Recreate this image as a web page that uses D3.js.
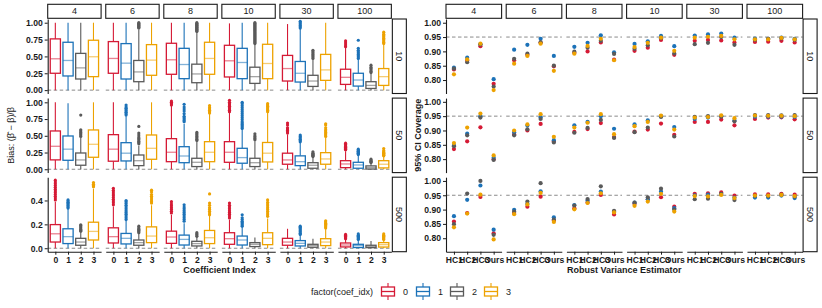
<!DOCTYPE html>
<html>
<head>
<meta charset="utf-8">
<script src="https://cdn.jsdelivr.net/npm/d3@7/dist/d3.min.js"></script>
<style>
  body { margin: 0; background: #fff; }
  text { font-family: "Liberation Sans", Arial, Helvetica, sans-serif; }
</style>
</head>
<body>
<script>
// facets
const colLabels = ["4", "6", "8", "10", "30", "100"];
const rowLabels = ["10", "50", "500"];
const coefs = ["0", "1", "2", "3"];
const estimators = ["HC1", "HC2", "HC3", "Ours"];
const coefColors = ["#D51A35", "#1C72B8", "#5A5A5A", "#EDA200"];

// bias boxplots: per column, per coef -> [lower whisker, q1, median, q3, upper whisker]
const biasBox10 = [
  [[0,.25,.465,.76,1],[0,.21,.44,.71,1],[0,.165,.33,.545,1],[0,.2,.495,.74,1]],
  [[0,.25,.47,.72,1],[0,.165,.40,.69,1],[0,.125,.27,.44,.90],[0,.22,.445,.675,1]],
  [[0,.235,.45,.695,1],[0,.17,.38,.62,1],[0,.11,.24,.385,.86],[0,.235,.47,.71,1]],
  [[0,.195,.435,.665,.99],[0,.17,.41,.62,1],[0,.10,.20,.34,.68],[0,.17,.395,.68,1]],
  [[0,.135,.32,.515,.98],[0,.12,.25,.425,.91],[0,.055,.135,.22,.46],[0,.145,.30,.53,1]],
  [[0,.085,.19,.31,.63],[0,.06,.15,.25,.46],[0,.025,.07,.125,.25],[0,.07,.20,.32,.68]]
];
const biasBox50 = [
  [[0,.14,.343,.572,1],[0,.134,.30,.497,.985],[0,.06,.139,.243,.47],[0,.179,.373,.587,1]],
  [[0,.12,.30,.517,1],[0,.124,.24,.397,.79],[0,.054,.128,.213,.35],[0,.149,.313,.512,1]],
  [[0,.113,.254,.457,.95],[0,.098,.198,.337,.68],[0,.04,.104,.164,.42],[0,.113,.254,.412,.83]],
  [[0,.104,.254,.412,.85],[0,.09,.174,.313,.60],[0,.04,.098,.164,.42],[0,.109,.24,.40,.85]],
  [[0,.075,.139,.24,.52],[0,.054,.113,.20,.40],[0,.015,.06,.098,.18],[0,.075,.154,.248,.47]],
  [[0,.024,.079,.128,.27],[0,.015,.064,.104,.21],[0,.003,.024,.05,.09],[0,.02,.075,.128,.19]]
];
const biasBox500 = [
  [[0,.052,.121,.198,.39],[0,.039,.097,.163,.33],[0,.025,.052,.083,.135],[0,.069,.141,.218,.50]],
  [[0,.044,.097,.171,.35],[0,.036,.083,.124,.23],[0,.025,.047,.069,.125],[0,.047,.102,.179,.36]],
  [[0,.041,.094,.143,.28],[0,.027,.074,.11,.21],[0,.019,.039,.058,.095],[0,.039,.088,.149,.27]],
  [[0,.033,.08,.13,.24],[0,.027,.069,.102,.18],[0,.014,.033,.047,.09],[0,.03,.083,.13,.25]],
  [[0,.025,.052,.083,.163],[0,.019,.041,.064,.11],[0,.008,.022,.033,.08],[0,.022,.052,.08,.165]],
  [[0,.011,.027,.044,.075],[0,.006,.022,.033,.07],[0,.005,.015,.025,.06],[0,.01,.03,.047,.07]]
];

// bias outliers: per column, per coef
const biasOut10 = [
  [[],[],[],[]],
  [[],[],[.92,.93,.94,.95,.96,.97,.98,.99,1.0],[]],
  [[],[],[.87,.88,.89,.9,.91,.92,.93,.94,.95,.96,.97,.98,.99,1.0],[]],
  [[],[],[.69,.705,.72,.735,.75,.765,.78,.795,.81,.825,.84,.855,.87,.885,.9,.915,.93,.945,.96,.975,.99,1.0],[]],
  [[],[.92,.94,.96,.98,1.0,1.02],[.47,.49,.51,.53,.55,.57,.59],[]],
  [[.645,.67,.7,.73],[.47,.49,.51,.53,.55,.57,.59,.62,.74],[.26,.28,.3,.32,.34,.37],[.69,.71,.73,.75,.77,.79,.81,.83,.86]]
];
const biasOut50 = [
  [[],[],[.49,.51,.53,.55,.57,.59,.81],[]],
  [[],[.81,.83,.85,.87,.89,.91,.93,.96],[.38,.40,.42,.44,.46,.48,.51,.54,.64],[]],
  [[.96,.98,1.0,1.02],[.71,.73,.75,.77,.79,.83,.87,.9,.93,.97],[.43,.45,.47,.49,.51,.53,.55],[.84,.86,.88,.9,.92,.95]],
  [[.86,.88,.9,.92,.94,.96,.98,1.0,1.03],[.61,.63,.65,.67,.69,.71,.74,.77,.8,.83,.86,.89,.92,.95,.98,1.0],[.44,.46,.48,.5,.53],[.86,.88,.9,.92,.94,.96,.98]],
  [[.54,.56,.58,.6,.62,.66,.69],[.41,.43,.45,.47,.49,.51],[.19,.2,.21,.22,.23,.24,.26],[.49,.51,.53,.55,.57,.59,.62,.66,.68]],
  [[.29,.3,.31,.32,.33,.34,.35,.37,.39],[.22,.23,.24,.25,.26,.27,.28,.3],[.1,.11,.12,.13,.15],[.2,.21,.22,.23,.24,.25,.26,.28,.31]]
];
const biasOut500 = [
  [[.405,.42,.435,.45,.465,.48,.495,.51,.525,.54,.555,.57],[.336,.345,.355,.365,.375,.385,.395,.405],[.143,.15,.16,.17,.18,.19,.196],[.515,.525,.535,.55]],
  [[.364,.38,.395,.41,.425,.44,.455,.47,.485,.502],[.24,.255,.27,.285,.3,.315,.33,.345,.36,.375,.39,.4],[.13,.14,.15,.16,.17,.185],[.378,.39,.405,.42,.435,.45,.47,.486]],
  [[.295,.31,.325,.34,.355,.37,.39],[.226,.24,.255,.27,.285,.3,.315,.33,.345,.364],[.1,.11,.12,.13],[.28,.295,.31,.325,.34,.36,.378,.455]],
  [[.254,.27,.285,.3,.315,.33,.345,.36,.378],[.185,.195,.205,.215,.225,.24,.255,.28],[],[.267,.28,.295,.31,.325,.34,.355,.37,.385,.405]],
  [[],[.116,.125,.135,.145,.155,.165,.175,.185],[],[.17,.18,.19,.2,.21,.22,.23]],
  [[.08,.087,.094,.101,.108,.116],[.074,.08,.087,.094,.101,.108,.12],[],[.074,.08,.087,.094,.101,.108,.12]]
];

// coverage: per column, per estimator -> [coef0, coef1, coef2, coef3]
const cov10 = [
  [[.837,.843,.840,.82],[.868,.878,.862,.872],[.918,.925,.924,.927],[.787,.803,.777,.765]],
  [[.869,.906,.874,.857],[.888,.923,.892,.884],[.93,.944,.932,.927],[.848,.884,.85,.832]],
  [[.895,.916,.899,.892],[.9,.93,.913,.919],[.931,.956,.937,.944],[.871,.897,.891,.869]],
  [[.902,.926,.909,.915],[.913,.935,.921,.93],[.94,.954,.946,.948],[.888,.918,.893,.902]],
  [[.937,.955,.925,.948],[.94,.959,.93,.951],[.938,.962,.95,.954],[.931,.948,.923,.942]],
  [[.933,.945,.94,.942],[.934,.944,.944,.942],[.937,.948,.945,.947],[.931,.944,.94,.942]]
];
const cov50 = [
  [[.835,.848,.845,.856],[.862,.889,.883,.91],[.911,.95,.945,.959],[.80,.805,.797,.813]],
  [[.887,.894,.883,.9],[.9,.917,.904,.921],[.923,.946,.94,.957],[.862,.866,.858,.878]],
  [[.895,.918,.892,.91],[.905,.93,.909,.927],[.926,.95,.937,.957],[.877,.906,.874,.887]],
  [[.896,.921,.894,.915],[.903,.935,.91,.93],[.924,.95,.947,.952],[.885,.912,.879,.903]],
  [[.93,.94,.948,.945],[.93,.945,.95,.947],[.938,.95,.948,.953],[.918,.935,.932,.943]],
  [[.94,.948,.954,.952],[.945,.948,.954,.951],[.946,.948,.953,.951],[.939,.947,.954,.95]]
];
const cov500 = [
  [[.858,.877,.849,.838],[.888,.934,.956,.886],[.944,.984,1.0,.952],[.817,.83,.812,.796]],
  [[.888,.899,.893,.884],[.91,.92,.928,.918],[.945,.964,.992,.958],[.862,.873,.865,.857]],
  [[.905,.916,.914,.901],[.925,.932,.937,.923],[.951,.963,.981,.957],[.883,.893,.896,.89]],
  [[.92,.924,.924,.913],[.935,.936,.943,.928],[.943,.963,.973,.955],[.91,.905,.9,.893]],
  [[.955,.95,.936,.947],[.957,.952,.938,.946],[.96,.954,.955,.951],[.949,.942,.933,.94]],
  [[.953,.942,.948,.949],[.953,.942,.947,.949],[.955,.949,.952,.951],[.952,.94,.945,.947]]
];

const biasBox = [biasBox10, biasBox50, biasBox500];
const biasOut = [biasOut10, biasOut50, biasOut500];
const coverage = [cov10, cov50, cov500];
const biasTicks = [[0, .25, .5, .75, 1], [0, .25, .5, .75, 1], [0, .2, .4]];
const biasDomains = [[-0.05, 1.055], [-0.05, 1.063], [-0.029, 0.595]];
const covTicks = [.80, .85, .90, .95, 1.00];
const covDomain = [0.753, 1.013];

// layout
const rowTop = [19, 98.1, 177.2], rowH = 74.5;
const L = {x0: 47.7, w: 53.4, gap: 4.65};
const R = {x0: 446, w: 55.6, gap: 4.6};
const stripTop = 4.3, stripH = 14;

const svg = d3.select("body").append("svg")
  .attr("width", 822).attr("height", 308);

const strip = (x, y, w, h, label, rotate) => {
  svg.append("rect").attr("x", x).attr("y", y).attr("width", w).attr("height", h)
    .attr("fill", "#fff").attr("stroke", "#1a1a1a").attr("stroke-width", 1.1);
  const t = svg.append("text").attr("font-size", 9).attr("fill", "#1a1a1a")
    .attr("text-anchor", "middle").attr("dominant-baseline", "central").text(label);
  if (rotate) t.attr("transform", `translate(${x + w / 2},${y + h / 2}) rotate(90)`);
  else t.attr("x", x + w / 2).attr("y", y + h / 2);
};

const styleAxis = g => {
  g.selectAll("text").attr("font-size", 8.6).attr("font-weight", "bold").attr("fill", "#1a1a1a")
    .attr("font-family", "Liberation Sans, Arial, sans-serif");
  g.selectAll("line").attr("stroke", "#1a1a1a");
  g.select(".domain").attr("stroke", "#1a1a1a").attr("stroke-width", 1.1);
};

// ---------- left: bias boxplots ----------
rowLabels.forEach((rl, r) => {
  const y = d3.scaleLinear().domain(biasDomains[r]).range([rowTop[r] + rowH, rowTop[r]]);
  colLabels.forEach((cl, c) => {
    const px = L.x0 + c * (L.w + L.gap);
    const x = d3.scalePoint().domain(coefs).range([px, px + L.w]).padding(0.6);
    const bw = x.step() * 0.8;
    const g = svg.append("g");

    g.append("line").attr("x1", px).attr("x2", px + L.w)
      .attr("y1", y(0)).attr("y2", y(0))
      .attr("stroke", "#8a8a8a").attr("stroke-width", 1).attr("stroke-dasharray", "3.5,2.5");

    coefs.forEach((k, i) => {
      const [lo, q1, med, q3, hi] = biasBox[r][c][i];
      const cx = x(k), col = coefColors[i];
      g.append("line").attr("x1", cx).attr("x2", cx).attr("y1", y(hi)).attr("y2", y(q3))
        .attr("stroke", col).attr("stroke-width", 1.1);
      g.append("line").attr("x1", cx).attr("x2", cx).attr("y1", y(q1)).attr("y2", y(lo))
        .attr("stroke", col).attr("stroke-width", 1.1);
      g.append("rect").attr("x", cx - bw / 2).attr("width", bw)
        .attr("y", y(q3)).attr("height", y(q1) - y(q3))
        .attr("fill", "#fff").attr("stroke", col).attr("stroke-width", 1.3);
      g.append("line").attr("x1", cx - bw / 2).attr("x2", cx + bw / 2)
        .attr("y1", y(med)).attr("y2", y(med))
        .attr("stroke", col).attr("stroke-opacity", 0.55).attr("stroke-width", 1.3);
      g.selectAll(null).data(biasOut[r][c][i]).join("circle")
        .attr("cx", cx).attr("cy", d => y(d)).attr("r", 1.6).attr("fill", col);
    });

    if (r === 0) strip(px, stripTop, L.w, stripH, cl, false);
    if (c === 0) {
      svg.append("g").attr("transform", `translate(${px},0)`)
        .call(d3.axisLeft(y).tickValues(biasTicks[r])
          .tickFormat(r === 2 ? d3.format(".1f") : d3.format(".2f"))
          .tickSize(3).tickSizeOuter(0).tickPadding(2))
        .call(styleAxis);
    }
    if (r === 2) {
      svg.append("g").attr("transform", `translate(0,${rowTop[r] + rowH})`)
        .call(d3.axisBottom(x).tickSize(3).tickSizeOuter(0).tickPadding(2))
        .call(styleAxis);
    }
  });
  strip(L.x0 + 6 * L.w + 5 * L.gap + 1, rowTop[r], 14, rowH, rl, true);
});

// ---------- right: coverage points ----------
rowLabels.forEach((rl, r) => {
  const y = d3.scaleLinear().domain(covDomain).range([rowTop[r] + rowH, rowTop[r]]);
  colLabels.forEach((cl, c) => {
    const px = R.x0 + c * (R.w + R.gap);
    const x = d3.scalePoint().domain(estimators).range([px, px + R.w]).padding(0.6);
    const g = svg.append("g");

    g.append("line").attr("x1", px).attr("x2", px + R.w)
      .attr("y1", y(0.95)).attr("y2", y(0.95))
      .attr("stroke", "#8a8a8a").attr("stroke-width", 1).attr("stroke-dasharray", "3.5,2.5");

    coefs.forEach((k, i) => {
      g.selectAll(null).data(estimators).join("circle")
        .attr("cx", e => x(e))
        .attr("cy", (e, j) => y(coverage[r][c][j][i]))
        .attr("r", 2.1).attr("fill", coefColors[i]);
    });

    if (r === 0) strip(px, stripTop, R.w, stripH, cl, false);
    if (c === 0) {
      svg.append("g").attr("transform", `translate(${px},0)`)
        .call(d3.axisLeft(y).tickValues(covTicks).tickFormat(d3.format(".2f"))
          .tickSize(3).tickSizeOuter(0).tickPadding(2))
        .call(styleAxis);
    }
    if (r === 2) {
      svg.append("g").attr("transform", `translate(0,${rowTop[r] + rowH})`)
        .call(d3.axisBottom(x).tickSize(3).tickSizeOuter(0).tickPadding(2))
        .call(styleAxis);
    }
  });
  strip(R.x0 + 6 * R.w + 5 * R.gap + 0.5, rowTop[r], 14, rowH, rl, true);
});

// ---------- axis titles ----------
const leftMid = L.x0 + (6 * L.w + 5 * L.gap) / 2;
const rightMid = R.x0 + (6 * R.w + 5 * R.gap) / 2;
svg.append("text").attr("x", leftMid).attr("y", 272.5).attr("text-anchor", "middle")
  .attr("font-size", 9).attr("font-weight", "bold").attr("fill", "#1a1a1a").text("Coefficient Index");
svg.append("text").attr("x", rightMid).attr("y", 272.5).attr("text-anchor", "middle")
  .attr("font-size", 9).attr("font-weight", "bold").attr("fill", "#1a1a1a").text("Robust Variance Estimator");

const yMid = (rowTop[0] + rowTop[2] + rowH) / 2;
svg.append("text").attr("transform", `translate(14,${yMid}) rotate(-90)`)
  .attr("text-anchor", "middle").attr("font-size", 9).attr("fill", "#1a1a1a")
  .text("Bias: (\u03B2\u0302 \u2212 \u03B2)/\u03B2");
svg.append("text").attr("transform", `translate(421,${yMid}) rotate(-90)`)
  .attr("text-anchor", "middle").attr("font-size", 9).attr("font-weight", "bold").attr("fill", "#1a1a1a")
  .text("95% CI Coverage");

// ---------- legend ----------
const legY = 291.5;
svg.append("text").attr("x", 311).attr("y", legY).attr("dominant-baseline", "central")
  .attr("font-size", 9).attr("fill", "#1a1a1a").text("factor(coef_idx)");
const keyX = [388, 423, 457, 491];
coefs.forEach((k, i) => {
  const kx = keyX[i], col = coefColors[i];
  svg.append("line").attr("x1", kx).attr("x2", kx).attr("y1", legY - 8.5).attr("y2", legY + 8.5)
    .attr("stroke", col).attr("stroke-width", 1.1);
  svg.append("rect").attr("x", kx - 6.5).attr("y", legY - 4.5).attr("width", 13).attr("height", 9)
    .attr("fill", "#fff").attr("stroke", col).attr("stroke-width", 1.3);
  svg.append("line").attr("x1", kx - 6.5).attr("x2", kx + 6.5).attr("y1", legY).attr("y2", legY)
    .attr("stroke", col).attr("stroke-width", 1.3);
  svg.append("text").attr("x", kx + 15).attr("y", legY).attr("dominant-baseline", "central")
    .attr("font-size", 9).attr("fill", "#1a1a1a").text(k);
});
</script>
</body>
</html>
